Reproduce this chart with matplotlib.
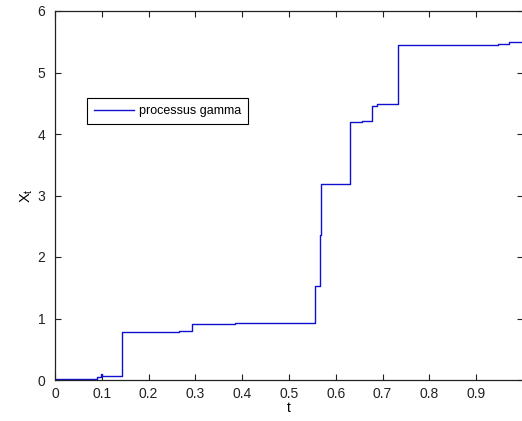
import numpy as np
import matplotlib
matplotlib.use("Agg")
import matplotlib.pyplot as plt

# step points of the gamma process path
t_vals = [0.0, 0.090, 0.098, 0.0995, 0.143, 0.144, 0.264, 0.293, 0.384,
          0.555, 0.567, 0.569, 0.630, 0.657, 0.677, 0.687, 0.732, 0.947,
          0.971, 1.0]
x_vals = [0.01, 0.05, 0.09, 0.06, 0.16, 0.785, 0.80, 0.905, 0.922,
          1.53, 2.36, 3.18, 4.19, 4.21, 4.455, 4.49, 5.44, 5.47,
          5.50, 5.50]
x_ticks = [0, 0.1, 0.2, 0.3, 0.4, 0.5, 0.6, 0.7, 0.8, 0.9]
x_tick_labels = ["0", "0.1", "0.2", "0.3", "0.4", "0.5", "0.6", "0.7", "0.8", "0.9"]
y_ticks = [0, 1, 2, 3, 4, 5, 6]

plt.rcParams['font.family'] = ['Liberation Sans', 'DejaVu Sans']
plt.rcParams['mathtext.fontset'] = 'custom'
plt.rcParams['mathtext.rm'] = 'Liberation Sans'
plt.rcParams['mathtext.it'] = 'Liberation Sans'

fig = plt.figure(figsize=(5.22, 4.21), dpi=100)
ax = fig.add_axes([55 / 522, 41 / 421, 468 / 522, 369 / 421])

ax.step(t_vals, x_vals, where='post', color='#1010d0', lw=1.0, label='processus gamma')

ax.set_xlim(0, 1)
ax.set_ylim(0, 6)
ax.set_xticks(x_ticks)
ax.set_xticklabels(x_tick_labels)
ax.set_yticks(y_ticks)
ax.tick_params(direction='in', length=4, width=0.8, top=True, right=True,
               labelsize=10, colors='#222222')
ax.tick_params(axis='x', pad=5)
ax.tick_params(axis='y', pad=7)
for sp in ax.spines.values():
    sp.set_linewidth(0.9)
    sp.set_color('#222222')

ax.set_xlabel('t', fontsize=10, labelpad=0)
ax.set_ylabel(r'$\mathregular{X_t}$', fontsize=10.5, labelpad=1.5)

leg = ax.legend(loc='upper left', bbox_to_anchor=(0.068, 0.764), borderaxespad=0,
                fancybox=False, framealpha=1, edgecolor='black', fontsize=9,
                handlelength=3.2, handletextpad=0.4, borderpad=0.55)
leg.get_frame().set_linewidth(0.8)

fig.savefig('out.png', dpi=100)
